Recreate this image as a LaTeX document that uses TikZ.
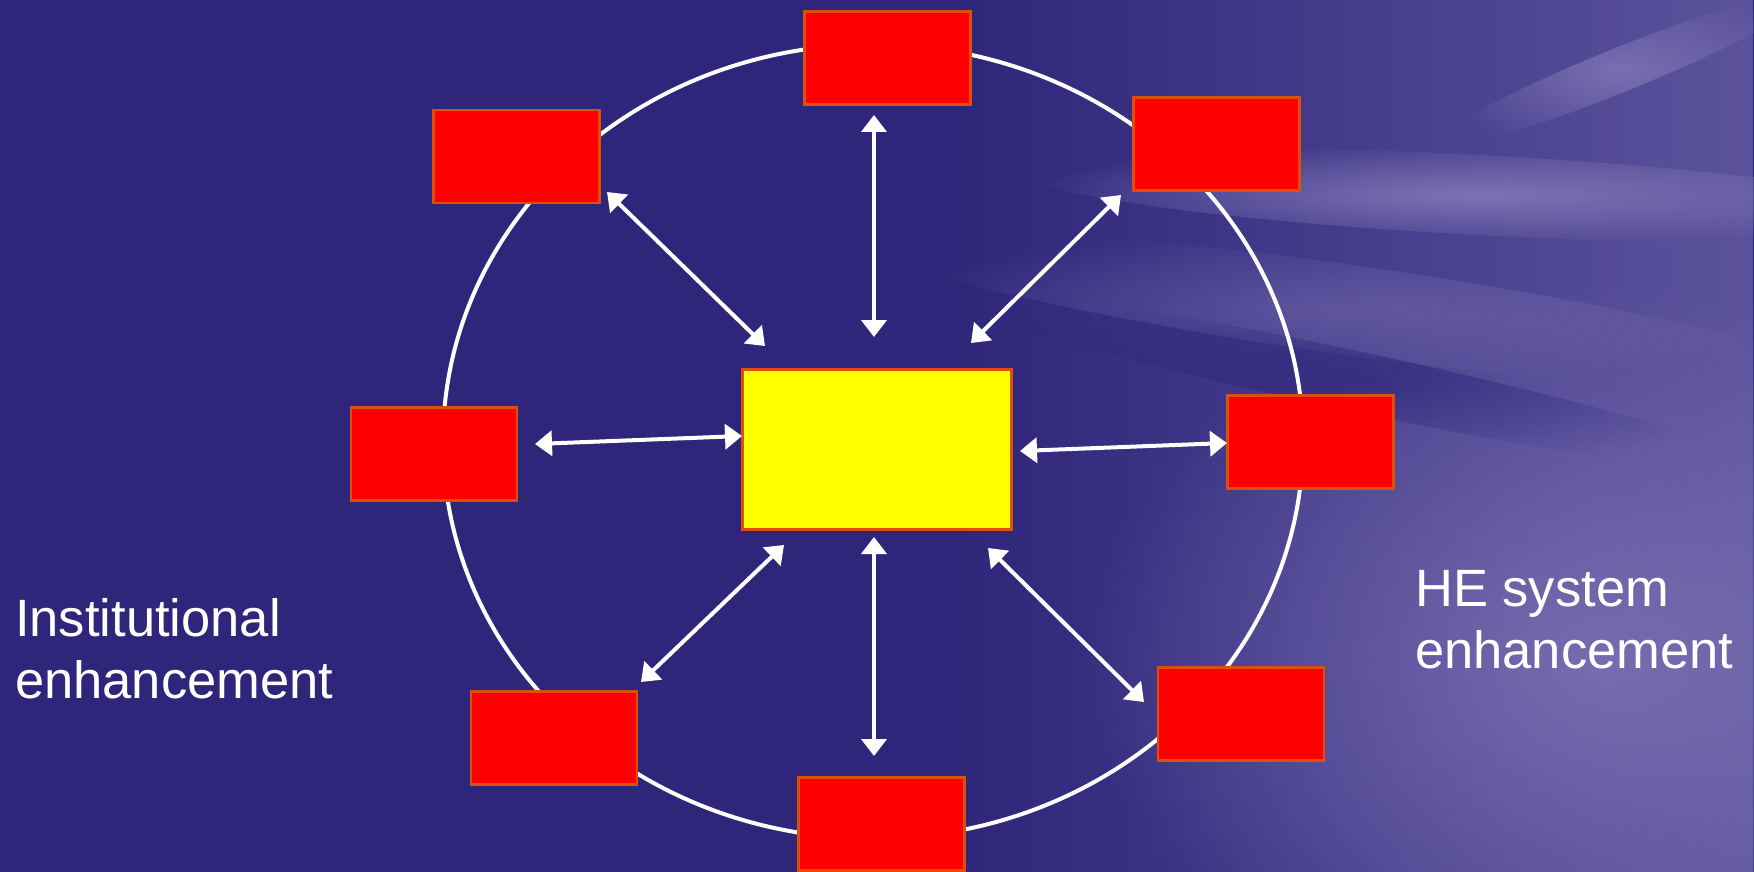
\documentclass[tikz,border=0pt]{standalone}
\usepackage{fontspec}
\setmainfont{Liberation Sans}
\usetikzlibrary{arrows.meta,fadings}
\definecolor{bgdark}{RGB}{47,38,123}
\definecolor{bglight}{RGB}{130,120,184}
\definecolor{boxred}{RGB}{255,0,0}
\definecolor{boxyel}{RGB}{255,255,0}
\definecolor{boxedge}{RGB}{222,80,10}
\tikzfading[name=fadeleft, left color=transparent!100, right color=transparent!0]
\tikzfading[name=fuzzy, inner color=transparent!0, outer color=transparent!100]
\begin{document}
\begin{tikzpicture}[x=1pt,y=-1pt,
  redbox/.style={rectangle, draw=boxedge, line width=2.5pt, fill=boxred, inner sep=0pt, minimum width=166pt, minimum height=93pt},
  centerbox/.style={rectangle, draw=boxedge, line width=2.5pt, fill=boxyel, inner sep=0pt, minimum width=269pt, minimum height=160pt},
  link/.style={white, line width=4pt, {Triangle[length=17pt,width=25pt]}-{Triangle[length=17pt,width=25pt]}},
  ring/.style={white, line width=4pt},
  lbl/.style={white, inner sep=0pt, align=left, font=\fontsize{52.5}{62}\selectfont},
  streak/.style={fill=bglight, path fading=fuzzy}
]
% background
\fill[bgdark] (0,0) rectangle (1754,872);
\useasboundingbox (0,0) rectangle (1754,872);
\begin{scope}
\clip (0,0) rectangle (1754,872);
\fill[bglight, path fading=fadeleft, fill opacity=0.55] (950,0) rectangle (1754,872);
\fill[streak, fill opacity=0.75] (1600,660) ellipse [x radius=520, y radius=380];
\fill[streak, fill opacity=0.9, rotate around={-3:(1480,195)}] (1480,195) ellipse [x radius=460, y radius=40];
\fill[streak, fill opacity=0.8, rotate around={22:(1620,70)}] (1620,70) ellipse [x radius=200, y radius=22];
\fill[streak, fill opacity=0.45, rotate around={-8:(1350,310)}] (1350,310) ellipse [x radius=480, y radius=45];
\fill[bgdark, path fading=fuzzy, fill opacity=0.7, rotate around={-12:(1350,380)}] (1350,380) ellipse [x radius=420, y radius=30];
\end{scope}
% ring
\draw[ring] (873,441.5) ellipse [x radius=430, y radius=397];
% boxes
\node[centerbox] (c) at (877,449.5) {};
\node[redbox] (t) at (887.5,58) {};
\node[redbox] (tl) at (516.5,156.5) {};
\node[redbox] (tr) at (1216.5,144) {};
\node[redbox] (l) at (434,454) {};
\node[redbox] (r) at (1310.5,442) {};
\node[redbox] (bl) at (554,738) {};
\node[redbox] (b) at (881.5,824) {};
\node[redbox] (br) at (1241,714) {};
% arrow end points
\coordinate (t1) at (874,115);   \coordinate (t2) at (874,337);
\coordinate (tl1) at (607,192);  \coordinate (tl2) at (765,346);
\coordinate (tr1) at (1121,195); \coordinate (tr2) at (971,343);
\coordinate (l1) at (535,444);   \coordinate (l2) at (742,436);
\coordinate (r1) at (1020,451);  \coordinate (r2) at (1227,443);
\coordinate (bl1) at (784,545);  \coordinate (bl2) at (641,682);
\coordinate (b1) at (874,537);   \coordinate (b2) at (874,756);
\coordinate (br1) at (988,548);  \coordinate (br2) at (1144,702);
\draw[link] (t1) -- (t2);
\draw[link] (tl1) -- (tl2);
\draw[link] (tr1) -- (tr2);
\draw[link] (l1) -- (l2);
\draw[link] (r1) -- (r2);
\draw[link] (bl1) -- (bl2);
\draw[link] (b1) -- (b2);
\draw[link] (br1) -- (br2);
% labels (base anchor = baseline of last line)
\node[lbl, anchor=base west] (inst) at (15,698) {Institutional\\enhancement};
\node[lbl, anchor=base west] (he) at (1415,668) {HE system\\enhancement};
\end{tikzpicture}
\end{document}
